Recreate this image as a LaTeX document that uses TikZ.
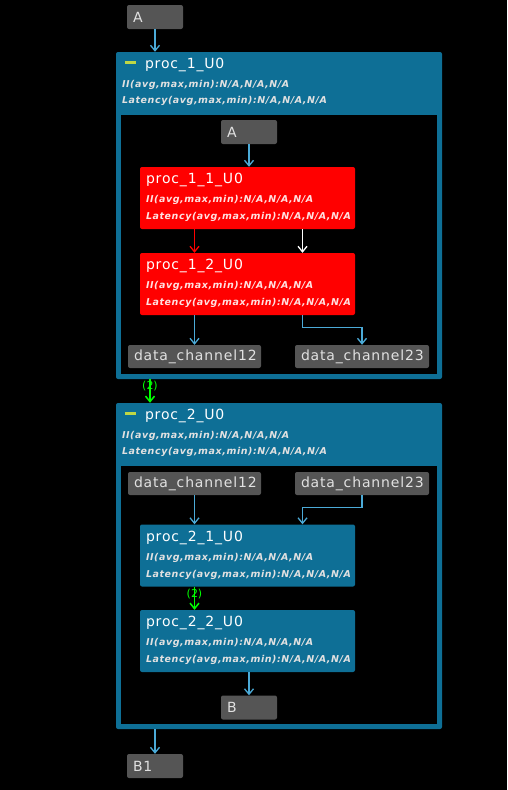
\documentclass[tikz,border=0pt]{standalone}
\usepackage{fontspec}
\setmainfont{DejaVu Sans}
\newfontfamily\boxfont[LetterSpace=6]{DejaVu Sans}
\usetikzlibrary{calc, positioning, arrows.meta}
\definecolor{hlsblue}{RGB}{14,111,150}
\definecolor{hlsgray}{RGB}{85,85,85}
\definecolor{hlstext}{RGB}{225,225,225}
\definecolor{flowblue}{RGB}{75,170,215}
\definecolor{dashgreen}{RGB}{190,215,70}
\newcommand{\statii}{II(avg,max,min):N/A,N/A,N/A}
\newcommand{\statlat}{Latency(avg,max,min):N/A,N/A,N/A}

\begin{document}
\begin{tikzpicture}[x=1pt,y=-1pt,>={Straight Barb[length=5.5pt,width=9pt]}]
  \tikzset{port/.style={fill=hlsgray, rounded corners=2pt, text=hlstext, inner xsep=6pt, inner ysep=0pt,
      minimum height=24pt, align=left, font=\boxfont\fontsize{14}{16}\selectfont},
    container/.style={fill=hlsblue, rounded corners=2pt, minimum width=326pt, inner sep=0},
    inner area/.style={fill=black, minimum width=316pt, inner sep=0},
    proc/.style={rounded corners=2pt, minimum width=215pt, minimum height=62pt, inner sep=0},
    title/.style={anchor=base west, inner sep=0, text=white, font=\boxfont\fontsize{14}{16}\selectfont},
    stat/.style={anchor=base west, inner sep=0, text=hlstext, font=\boxfont\fontsize{9.5}{11}\selectfont\bfseries\itshape},
    flow/.style={->, draw=flowblue, line width=1.3pt},
    count/.style={->, draw=green, line width=1.5pt},
    count label/.style={pos=0.3, text=green, inner sep=0, font=\fontsize{11}{12}\selectfont}}
  \fill[black] (0,0) rectangle (507,790);
  \useasboundingbox (0,0) rectangle (507,790);
  % top level
  \node[port, text width=44pt] (A) at (155,17) {A};
  \node[container, minimum height=327pt] (p1) at (279,215.5) {};
  \node[inner area, minimum height=259pt] (p1in) at (279,244.5) {};
  \draw[dashgreen, line width=3pt] ($(p1.north west)+(9,10.5)$) -- ($(p1.north west)+(20,10.5)$);
  \node[title] (p1t) at ($(p1.north west)+(29,17)$) {proc\_1\_U0};
  \node[stat] (p1ii) at ($(p1.north west)+(6,36)$) {\statii};
  \node[stat] (p1lat) at ($(p1.north west)+(6,52)$) {\statlat};
  % inside proc_1
  \node[port, text width=44pt] (p1A) at (249,132) {A};
  \node[proc, fill=red] (p11) at (247.5,198) {};
  \node[title] (p11t) at ($(p11.north west)+(6,17)$) {proc\_1\_1\_U0};
  \node[stat, text=white!88!red] (p11ii) at ($(p11.north west)+(6,36)$) {\statii};
  \node[stat, text=white!88!red] (p11lat) at ($(p11.north west)+(6,53)$) {\statlat};
  \node[proc, fill=red] (p12) at (247.5,284) {};
  \node[title] (p12t) at ($(p12.north west)+(6,17)$) {proc\_1\_2\_U0};
  \node[stat, text=white!88!red] (p12ii) at ($(p12.north west)+(6,36)$) {\statii};
  \node[stat, text=white!88!red] (p12lat) at ($(p12.north west)+(6,53)$) {\statlat};
  \node[port, text width=121pt, minimum height=23pt] (dc12) at (194.5,356.5) {data\_channel12};
  \node[port, text width=122pt, minimum height=23pt] (dc23) at (362,356.5) {data\_channel23};
  % proc_2
  \node[container, minimum height=326pt] (p2) at (279,566) {};
  \node[inner area, minimum height=258pt] (p2in) at (279,595) {};
  \draw[dashgreen, line width=3pt] ($(p2.north west)+(9,10.5)$) -- ($(p2.north west)+(20,10.5)$);
  \node[title] (p2t) at ($(p2.north west)+(29,17)$) {proc\_2\_U0};
  \node[stat] (p2ii) at ($(p2.north west)+(6,36)$) {\statii};
  \node[stat] (p2lat) at ($(p2.north west)+(6,52)$) {\statlat};
  % inside proc_2
  \node[port, text width=121pt, minimum height=23pt] (dc12b) at (194.5,483.5) {data\_channel12};
  \node[port, text width=122pt, minimum height=23pt] (dc23b) at (362,483.5) {data\_channel23};
  \node[proc, fill=hlsblue] (p21) at (247.5,555.5) {};
  \node[title] (p21t) at ($(p21.north west)+(6,17)$) {proc\_2\_1\_U0};
  \node[stat] (p21ii) at ($(p21.north west)+(6,36)$) {\statii};
  \node[stat] (p21lat) at ($(p21.north west)+(6,53)$) {\statlat};
  \node[proc, fill=hlsblue] (p22) at (247.5,641) {};
  \node[title] (p22t) at ($(p22.north west)+(6,17)$) {proc\_2\_2\_U0};
  \node[stat] (p22ii) at ($(p22.north west)+(6,36)$) {\statii};
  \node[stat] (p22lat) at ($(p22.north west)+(6,53)$) {\statlat};
  \node[port, text width=44pt] (B) at (249,707.5) {B};
  \node[port, text width=44pt] (B1) at (155,766) {B1};
  % connectors
  \draw[flow] (A.south) -- (A.south |- p1.north);
  \draw[flow] (p1A.south) -- (p1A.south |- p11.north);
  \draw[->, red, line width=1.3pt] ([xshift=-53]p11.south) -- ([xshift=-53]p12.north);
  \draw[->, white, line width=1.3pt] ([xshift=55]p11.south) -- ([xshift=55]p12.north);
  \draw[flow] ([xshift=-53]p12.south) -- ([xshift=-53]p12.south |- dc12.north);
  \draw[flow] ([xshift=55]p12.south) -- ++(0,12) -| (dc23.north);
  \draw[count] ([xshift=-129]p1.south) -- node[count label] {(2)} ([xshift=-129]p1.south |- p2.north);
  \draw[flow] (dc12b.south) -- (dc12b.south |- p21.north);
  \draw[flow] (dc23b.south) -- ++(0,12) -| ([xshift=55]p21.north);
  \draw[count] ([xshift=-53]p21.south) -- node[count label] {(2)} ([xshift=-53]p22.north);
  \draw[flow] (B.north |- p22.south) -- (B.north);
  \draw[flow] (B1.north |- p2.south) -- (B1.north);
\end{tikzpicture}
\end{document}
